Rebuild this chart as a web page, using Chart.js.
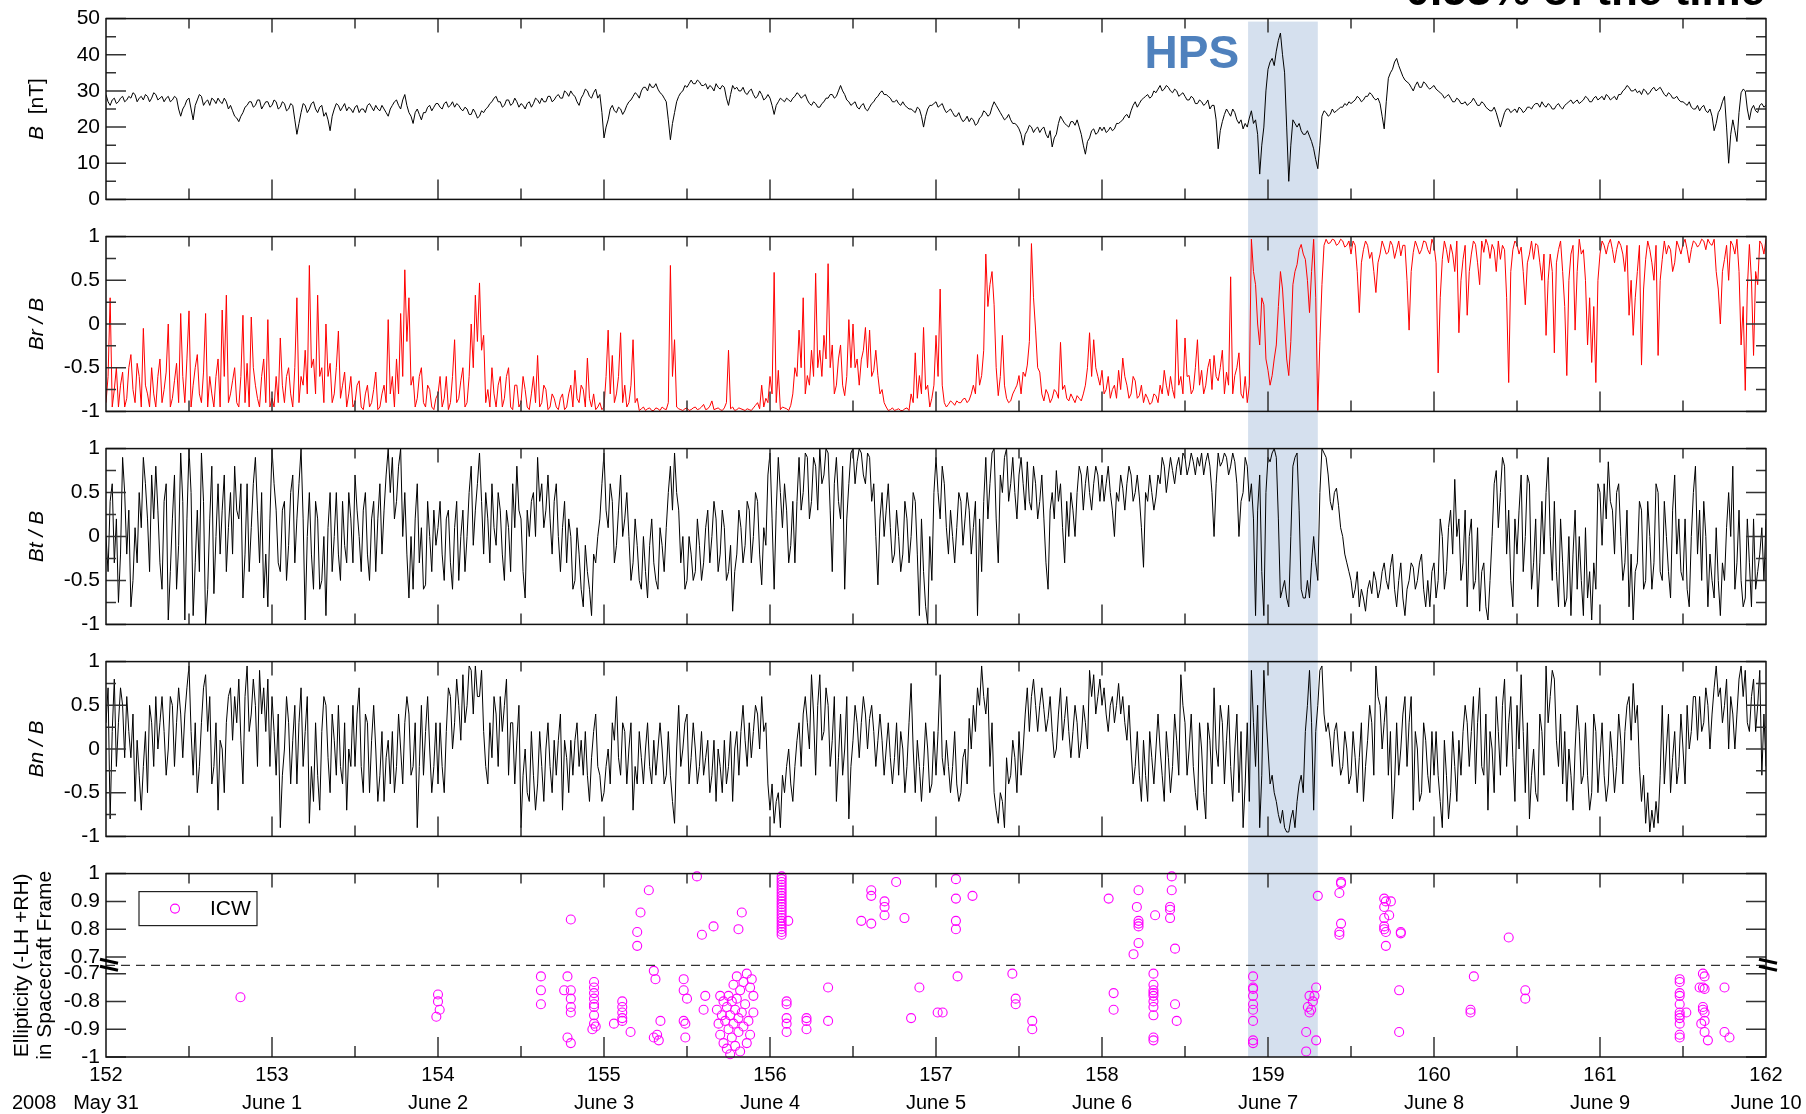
<!DOCTYPE html>
<html>
<head>
<meta charset="utf-8">
<script src="https://cdn.jsdelivr.net/npm/chart.js@4.4.1/dist/chart.umd.min.js"></script>
<style>
  html, body { margin: 0; padding: 0; background: #fff; }
  #wrap { position: relative; width: 1806px; height: 1114px; overflow: hidden; }
  #wrap canvas { position: absolute; left: 0; }
</style>
</head>
<body>
<div id="wrap">
  <canvas id="c-b"  width="1806" height="218" style="top:0px"></canvas>
  <canvas id="c-br" width="1806" height="212" style="top:218px"></canvas>
  <canvas id="c-bt" width="1806" height="213" style="top:430px"></canvas>
  <canvas id="c-bn" width="1806" height="212" style="top:643px"></canvas>
  <canvas id="c-el" width="1806" height="259" style="top:855px"></canvas>
</div>
<script>
/* ============================================================
   STEREO field panels + ICW ellipticity, 2008 day 152 - 162
============================================================ */

// time grid of the field series (day of year)
const DAY_START = 152;
const DAY_STEP = 0.025;   // *_MID arrays sit half a step after each sample

// |B| in nT, one row per day
const B_NT = [
  29,26,28,27,28.5,27.5,28,29,28,27.5, 28.5,28,29,28,27,28.5,27.5,28,23,26, 28,22,27.5,28.5,27,26,27.5,28,26.5,27, 26,23,21.5,24,26,27,26,27.5,26,27,
  26,27,25.5,26.5,25,26,18,24,26,25, 27,24,26,24,19,25,26,25.5,24.5,25, 25.5,24,25,26,25.5,26,24.5,25,23,26, 27.5,25,29,24,21,25,22,24,26,25.5,
  26.5,25,27,26,25.5,26,24.5,25,23.5,24, 23,24,25.5,27,28.5,27,26,27.5,26.5,27, 26.5,25,27,26.5,27.5,28,27,28.5,27.5,29, 28,29.5,30,28.5,26,29,30,28,30.5,29,
  17,22,26,24,25,24.5,27,28.5,29,30, 31,32,31,30.5,29,27,16.5,24,28.5,30, 31,33,32,32.5,31.5,30.5,31,32,30.5,31, 26,31.5,31,30,29.5,30,29,28.5,29,28,
  28,23.5,27,27.5,28,27,28.5,29,28.5,27.5, 26,26.5,25.5,27,28,29,28.5,31.5,29,27, 26.5,25.5,26,25,25.5,27,28.5,30,29,28, 27,26.5,27,25.5,25,24,25,20,25,26,
  27,26,25,24.5,24,23,22.5,22,21.5,22, 21,23,24,23.5,27,25,23,22.5,22,21, 19.5,15,19,20,19.5,18.5,20,17,14.5,18, 23,21,20,21.5,22,18,12.5,17,19.5,18.5,
  19,18.5,20,19.5,21,22,23.5,24.5,27,26.5, 28,29,28.5,29.5,31.5,30.5,31,29.5,30,29, 28.5,27.5,28,26.5,27,26.5,25,26,14,21.5, 25,23,24,21,19.5,20,24.5,22,7,20,
  36,39,41,46,35,5,22,20,19,18, 17.5,14,8.5,23,24,23.5,24,25,25.5,26, 26.5,27.5,28,27.5,28.5,29,27.5,26.5,19.5,33.5, 36,39,35.5,33,32,30,32.5,31,32,30.5,
  31.5,30,29,28.5,28,27,27.5,26.5,26,27, 27,26,26.5,25,24.5,24,20,24,25,24.5, 24,25,24.5,25.5,26,26.5,27,25.5,26,25, 26.5,25,26.5,27.5,27,26.5,27.5,28,27,28.5,
  28,27.5,28.5,28,27.5,29,30.5,31,30,29.5, 29,30,29.5,31,30.5,30,28.5,29,28,27.5, 27,26,25.5,25,24.5,26,24,23,21,25, 28.5,10,22,16,29.5,30,22,26,24,26.5,
  26
];
const B_MID = [
  27,27.5,26.5,28,27,28.5,29.5,27,28.5,29, 27,29.5,27.5,28.5,28,27,28.5,25,25,27.5, 25,26,29,26,27.5,28,26.5,27,28,25, 24.5,22.5,23,25.5,27,25.5,27.5,25,27,25.5,
  27.5,25,27,24.5,26.5,22,21,26.5,24,26.5, 25,25.5,23,22,23,26.5,24.5,26.5,25.5,24, 26,25,24,26.5,24.5,25,26,24,25,27, 26,27.5,26,23,24,23.5,24,25.5,24.5,26.5,
  25.5,26.5,25.5,27,26.5,25,25.5,23.5,25,22.5, 24.5,25,26.5,28,27,25.5,27.5,26,28,25.5, 26,26.5,25.5,28,26.5,27,28.5,27,28.5,28, 30,28.5,29,27,28,30.5,28.5,29.5,28,24,
  20,25,24.5,25.5,23.5,26,27.5,29.5,28,31, 30,31,32,29.5,28,22,21,27,29.5,31.5, 32,32,33,31.5,32,31.5,30,31,31.5,28, 29,30.5,30,31,29,30.5,28,30,27.5,29,
  26,26,28,27,27.5,28,29.5,28,29,26.5, 27,25.5,26.5,28,29,28,30,30,27.5,26, 27,25,26.5,24.5,26.5,28,29.5,29,28.5,27, 27.5,26,26,25,24.5,25.5,23,23,26,26.5,
  25.5,26.5,24,25,23,24,21.5,23,22.5,20.5, 22.5,24.5,23,25.5,26,24,22,23.5,21,20.5, 18,18,20.5,18.5,20,19.5,18,19,17,21, 22,20.5,21.5,20.5,20,15,16,19,18,20,
  20,19,19,21,21.5,23,22.5,26,25.5,27.5, 28.5,28,30,30.5,30,31.5,30,30.5,28.5,29.5, 27.5,28.5,26.5,27.5,26,27.5,26,22,19,23.5, 24,25,22,22,21,22.5,21,18,15,30,
  38,37,44,40,20,15,21,21,18,19, 16,11,15,24.5,23,25,24.5,25.5,26.5,27, 27,28.5,27,28.5,29.5,28,28,23,27,35, 38,37,34,32.5,31,31.5,31,32.5,31,31,
  30.5,29.5,28,29,27,28,26.5,27,26.5,28, 26,27,25.5,24.5,25.5,22,22,25,24,25, 25.5,24,25.5,25,26.5,25.5,26,26.5,25,26, 25.5,26,27,26.5,27.5,27,28.5,27,28,27.5,
  28.5,29,27.5,28.5,29,30,31.5,30,30.5,30, 30.5,29,30.5,30,31,29,29.5,28,28.5,27, 26.5,27,25,26,25.5,24.5,25,19,24,27, 20,18,19,24,30.5,25,25,24.5,26,25.5
];

// Br / B
const BR_B = [
  -0.9,0.3,-0.75,-0.95,-0.55,-0.85,-0.35,-0.9,-0.6,-0.05, -0.8,-0.5,-0.95,-0.4,-0.75,0.0,-0.85,-0.45,0.12,-0.9, 0.15,-0.7,-0.35,-0.9,0.12,-0.6,-0.95,-0.4,0.16,0.33, -0.8,-0.5,-0.95,0.1,-0.45,0.08,-0.7,-0.95,-0.4,0.05,
  -0.85,-0.6,-0.16,-0.9,-0.5,-0.95,0.3,-0.6,-0.3,0.67, -0.4,0.33,-0.5,0.0,-0.45,-0.8,-0.08,-0.7,-0.95,-0.6, -0.9,-0.65,-0.98,-0.7,-0.9,-0.55,-0.95,-0.7,0.05,-0.6, -0.4,0.12,0.62,0.3,-0.6,-0.85,-0.5,-0.95,-0.75,-0.98,
  -0.8,-0.95,-0.6,-0.9,-0.18,-0.85,-0.5,-0.9,0.0,0.33, 0.47,-0.13,-0.75,-0.5,-0.95,-0.6,-0.85,-0.5,-0.98,-0.7, -0.9,-0.75,-0.98,-0.6,-0.36,-0.9,-0.75,-0.95,-0.85,-0.98, -0.8,-0.95,-0.7,-0.53,-0.9,-0.75,-0.39,-0.95,-0.98,-0.9,
  -0.95,-0.07,-0.36,-0.8,-0.1,-0.7,-0.9,-0.18,-0.85,-0.97, -0.99,-0.96,-0.99,-0.97,-0.95,-0.98,0.67,-0.18,-0.97,-0.99, -0.96,-0.98,-0.95,-0.97,-0.92,-0.97,-0.88,-0.97,-0.98,-0.96, -0.3,-0.95,-0.98,-0.97,-0.99,-0.98,-0.96,-0.9,-0.7,-0.85,
  -0.6,0.59,-0.53,-0.95,-0.97,-0.93,-0.5,-0.07,0.3,-0.59, -0.3,0.58,-0.3,-0.13,0.69,-0.24,-0.7,-0.24,-0.82,0.05, 0.0,-0.4,-0.41,-0.04,-0.07,-0.53,-0.59,-0.75,-0.95,-0.98, -0.99,-0.97,-0.99,-0.96,-0.8,-0.33,-0.59,-0.04,-0.7,-0.85,
  -0.13,0.4,-0.9,-0.92,-0.9,-0.88,-0.9,-0.85,-0.87,-0.7, -0.35,-0.59,0.8,0.45,0.22,-0.82,-0.13,-0.85,-0.88,-0.75, -0.59,-0.55,-0.47,0.92,-0.07,-0.55,-0.88,-0.8,-0.85,-0.78, -0.21,-0.7,-0.88,-0.85,-0.82,-0.88,-0.7,-0.1,-0.18,-0.6,
  -0.53,-0.75,-0.85,-0.7,-0.53,-0.39,-0.7,-0.8,-0.65,-0.82, -0.9,-0.85,-0.9,-0.82,-0.7,-0.53,-0.82,-0.75,0.05,-0.6, -0.16,-0.59,-0.75,-0.18,-0.53,-0.7,-0.4,-0.36,-0.65,-0.3, -0.55,0.54,-0.59,-0.33,-0.85,-0.9,0.97,0.45,-0.24,0.22,
  -0.53,-0.59,-0.24,0.6,0.0,-0.59,0.45,0.68,0.91,0.74, 0.13,0.97,-0.99,0.45,0.97,0.93,0.96,0.92,0.95,0.9, 0.8,0.9,0.13,0.85,0.9,0.82,0.36,0.8,0.88,0.82, 0.9,0.85,0.78,0.9,-0.07,0.82,0.88,0.85,0.94,0.8,
  0.9,-0.56,0.74,0.85,0.91,0.6,-0.1,0.74,0.1,0.8, 0.91,0.45,0.82,0.9,0.91,0.6,0.74,0.85,-0.67,0.85, 0.91,0.88,0.22,0.8,0.74,0.9,0.5,-0.13,0.8,-0.33, 0.85,0.6,-0.59,0.8,-0.07,0.97,0.85,-0.24,-0.44,-0.67,
  0.8,0.9,0.91,0.85,0.85,0.9,0.6,0.1,-0.13,0.6, -0.47,0.74,0.85,0.5,-0.36,0.74,0.8,0.85,0.7,0.88, 0.91,0.85,0.85,0.93,0.91,0.95,0.97,0.9,0.6,0.0, 0.74,0.5,0.9,0.97,-0.24,-0.76,0.91,-0.36,0.45,0.91,
  0.97
];
const BR_MID = [
  -0.6,-0.95,-0.5,-0.7,-0.95,-0.5,-0.75,-0.45,-0.95,-0.7, -0.95,-0.8,-0.6,-0.9,-0.55,-0.95,-0.65,-0.9,-0.6,-0.4, -0.95,-0.5,-0.8,-0.55,-0.95,-0.8,-0.6,-0.95,-0.6,-0.9, -0.65,-0.9,-0.6,-0.9,-0.95,-0.5,-0.85,-0.6,-0.9,-0.95,
  -0.95,-0.9,-0.7,-0.6,-0.8,-0.5,-0.9,-0.7,-0.8,-0.5, -0.8,-0.6,-0.9,-0.6,-0.9,-0.5,-0.85,-0.55,-0.8,-0.95, -0.7,-0.95,-0.8,-0.95,-0.75,-0.98,-0.8,-0.9,-0.8,-0.95, -0.8,-0.6,-0.2,-0.7,-0.95,-0.6,-0.9,-0.7,-0.95,-0.85,
  -0.6,-0.85,-0.98,-0.6,-0.9,-0.65,-0.95,-0.6,-0.5,-0.2, -0.3,-0.9,-0.95,-0.8,-0.7,-0.95,-0.6,-0.95,-0.7,-0.95, -0.6,-0.95,-0.8,-0.9,-0.95,-0.7,-0.98,-0.8,-0.95,-0.85, -0.98,-0.8,-0.95,-0.85,-0.7,-0.95,-0.85,-0.8,-0.95,-0.98,
  -0.6,-0.8,-0.9,-0.6,-0.9,-0.95,-0.7,-0.9,-0.99,-0.95, -0.97,-0.99,-0.96,-0.99,-0.97,-0.9,-0.6,-0.95,-0.98,-0.97, -0.99,-0.96,-0.98,-0.95,-0.98,-0.94,-0.98,-0.96,-0.99,-0.9, -0.97,-0.99,-0.96,-0.98,-0.97,-0.99,-0.93,-0.97,-0.95,-0.9,
  -0.8,-0.9,-0.98,-0.96,-0.99,-0.8,-0.6,-0.5,-0.8,-0.7, -0.6,-0.5,-0.6,-0.4,-0.5,-0.8,-0.4,-0.7,-0.6,-0.5, -0.5,-0.7,-0.3,-0.5,-0.6,-0.3,-0.8,-0.9,-0.99,-0.96, -0.98,-0.99,-0.97,-0.99,-0.9,-0.85,-0.8,-0.75,-0.95,-0.7,
  -0.6,-0.7,-0.95,-0.88,-0.93,-0.9,-0.86,-0.9,-0.8,-0.8, -0.7,-0.3,0.2,0.6,-0.5,-0.6,-0.7,-0.9,-0.8,-0.7, -0.8,-0.6,-0.2,0.3,-0.5,-0.8,-0.75,-0.9,-0.75,-0.85, -0.75,-0.85,-0.8,-0.9,-0.85,-0.8,-0.5,-0.6,-0.5,-0.7,
  -0.8,-0.6,-0.75,-0.85,-0.75,-0.6,-0.85,-0.6,-0.85,-0.7, -0.8,-0.92,-0.8,-0.9,-0.8,-0.7,-0.6,-0.85,-0.7,-0.8, -0.6,-0.8,-0.5,-0.7,-0.8,-0.5,-0.75,-0.6,-0.5,-0.8, -0.7,-0.8,-0.5,-0.8,-0.6,-0.7,0.6,0.0,0.3,-0.4,
  -0.7,-0.4,0.2,0.4,-0.4,-0.2,0.6,0.85,0.8,0.5, 0.6,0.3,-0.2,0.9,0.92,0.97,0.9,0.97,0.88,0.95, 0.95,0.6,0.7,0.95,0.75,0.6,0.7,0.95,0.8,0.95, 0.75,0.95,0.9,0.5,0.6,0.95,0.8,0.95,0.85,0.97,
  0.7,0.3,0.95,0.7,0.8,0.95,0.5,0.9,0.6,0.95, 0.7,0.95,0.97,0.75,0.85,0.95,0.9,0.3,0.6,0.95, 0.8,0.6,0.7,0.95,0.92,0.7,0.8,0.5,0.6,0.7, 0.95,0.2,0.5,0.9,0.6,0.8,0.5,0.3,0.2,0.5,
  0.95,0.8,0.97,0.7,0.95,0.8,0.9,0.5,0.3,0.9, 0.4,0.95,0.7,0.9,0.5,0.95,0.9,0.6,0.95,0.8, 0.97,0.7,0.95,0.88,0.97,0.85,0.92,0.97,0.4,0.6, 0.9,0.95,0.8,0.6,0.2,0.4,0.5,0.6,0.95,0.8
];

// Bt / B
const BT_B = [
  0.0,0.4,-0.3,-0.75,0.9,-0.2,-0.8,0.1,0.5,0.9, 0.2,0.7,0.8,-0.3,0.4,-0.95,0.2,-0.6,0.95,-0.95, 1.0,-0.9,0.3,0.95,-1.0,0.2,-0.65,0.6,0.3,-0.4, 0.5,0.8,0.2,-0.7,0.6,0.1,0.9,-0.3,-0.7,-0.8,
  1.0,0.3,-0.4,0.4,-0.1,0.7,0.2,1.0,-0.95,0.5, -0.6,0.2,-0.5,-0.9,0.5,0.0,-0.2,0.4,-0.3,0.2, 0.7,0.0,0.3,-0.2,0.2,-0.4,0.6,0.3,1.0,0.9, 0.4,1.0,0.5,-0.7,-0.6,0.6,0.1,-0.55,0.0,0.3,
  0.1,-0.2,0.2,-0.3,0.1,-0.5,0.3,0.0,0.8,0.3, 0.95,-0.2,0.2,0.6,-0.1,0.3,-0.5,0.1,0.6,0.8, 0.2,-0.7,0.0,0.5,0.9,0.6,0.3,0.2,0.4,0.0, 0.1,-0.3,0.0,-0.5,-0.2,-0.8,-0.4,-0.9,-0.3,0.2,
  0.95,0.1,0.4,-0.1,0.7,0.2,0.0,-0.3,-0.1,-0.6, -0.4,-0.1,-0.3,-0.6,-0.1,0.1,0.8,0.95,0.3,0.0, -0.5,-0.2,-0.4,-0.1,-0.3,0.3,0.0,0.2,-0.2,0.1, -0.4,-0.85,-0.2,0.1,-0.1,0.3,0.0,0.4,-0.55,-0.1,
  0.95,-0.6,0.9,0.1,0.3,-0.1,-0.3,0.9,0.5,0.9, 0.4,0.8,1.0,0.7,0.95,-0.4,0.9,0.2,-0.6,0.6, 1.0,0.85,0.95,0.6,0.9,0.6,-0.55,0.5,0.3,0.1, -0.2,0.0,-0.2,0.2,0.0,0.4,-0.9,-0.4,-1.0,-0.5,
  0.9,0.2,0.6,-0.2,0.0,0.1,0.4,0.2,0.3,0.1, -0.9,-0.4,0.9,0.6,1.0,-0.3,0.5,1.0,0.6,0.5, 0.7,0.6,0.85,0.3,0.6,0.4,0.2,-0.6,0.5,0.75, 0.6,-0.3,0.0,0.3,0.5,0.7,0.6,0.5,0.6,0.7,
  0.7,0.6,0.5,0.0,0.4,0.55,0.6,0.7,0.5,0.45, -0.35,0.4,0.5,0.45,0.6,0.8,0.7,0.75,0.8,0.7, 0.9,0.8,0.85,0.9,0.95,0.85,0.8,0.0,0.95,0.85, 0.9,0.8,0.85,0.0,0.5,0.8,0.6,-0.9,0.7,-0.9,
  0.9,0.95,0.9,-0.7,-0.5,-0.8,0.8,0.95,-0.6,-0.7, -0.7,0.0,-0.5,1.0,0.9,0.4,0.5,0.35,0.0,-0.3, -0.5,-0.6,-0.8,-0.7,-0.6,-0.65,-0.5,-0.6,-0.3,-0.6, -0.2,-0.8,-0.3,-0.9,-0.5,-0.35,-0.5,-0.2,-0.8,-0.8,
  -0.3,-0.5,0.0,-0.4,0.3,0.65,0.2,-0.3,-0.8,0.2, -0.5,-0.85,-0.3,-0.95,0.0,0.75,0.5,0.8,0.3,-0.8, -0.2,0.7,0.0,0.6,-0.3,-0.8,0.4,0.5,0.0,0.4, -0.8,-0.3,-0.7,-0.9,0.3,0.0,-0.9,-0.7,-0.95,-0.6,
  0.5,0.6,0.85,0.3,0.5,0.0,-0.3,-0.8,-0.95,-0.3, 0.3,-0.5,0.0,-0.3,0.5,-0.5,0.0,-0.7,0.7,0.2, -0.5,-0.6,0.0,0.8,0.3,0.4,-0.8,-0.5,0.1,-0.9, -0.5,0.5,0.8,-0.3,-0.5,-0.7,-0.3,0.2,-0.4,0.1,
  0.2
];
const BT_MID = [
  -0.4,0.6,0.2,-0.2,0.5,0.3,-0.5,-0.3,0.1,0.6, -0.4,0.2,0.3,-0.6,0.6,-0.4,0.7,-0.1,0.4,0.2, 0.5,-0.3,-0.4,0.4,-0.6,0.8,0.0,-0.2,0.7,0.1, -0.2,0.3,0.6,-0.2,-0.4,0.6,0.3,0.5,-0.2,0.2,
  0.6,-0.3,0.3,-0.5,0.5,-0.3,0.6,0.2,0.0,-0.2, 0.4,-0.6,0.0,0.1,-0.4,0.5,-0.5,-0.1,0.5,-0.3, 0.3,-0.4,0.5,-0.5,0.4,0.2,-0.2,0.7,0.5,0.2, 0.8,0.0,-0.2,0.0,0.2,-0.3,-0.6,0.4,-0.4,-0.1,
  0.4,-0.5,0.3,-0.6,0.4,0.0,-0.4,0.5,-0.1,0.6, 0.4,0.5,-0.3,0.1,0.5,-0.2,0.3,-0.4,0.1,0.3, -0.4,0.3,0.4,0.0,0.4,0.1,0.7,-0.2,0.6,-0.4, 0.4,0.2,-0.6,0.1,-0.6,-0.1,-0.6,-0.2,0.0,0.6,
  0.3,0.6,-0.3,0.3,0.0,0.5,-0.5,0.2,-0.5,0.0, -0.7,0.2,-0.5,0.1,-0.4,0.5,0.3,0.5,-0.3,-0.6, 0.0,-0.5,0.2,-0.5,0.1,-0.3,0.4,-0.4,0.3,-0.5, -0.1,-0.4,0.3,-0.3,0.4,-0.3,0.5,-0.2,0.1,0.7,
  0.2,0.3,0.5,0.6,-0.3,0.4,0.4,0.3,0.95,0.2, 0.9,0.3,0.6,1.0,0.3,0.6,0.4,0.8,0.2,0.95, 0.6,1.0,0.7,0.95,0.4,0.0,0.2,0.0,0.6,-0.3, 0.3,-0.4,0.4,-0.3,0.5,-0.2,0.2,-0.8,0.0,0.5,
  0.5,0.8,0.1,0.3,-0.3,0.5,-0.1,0.5,-0.2,0.4, 0.2,0.4,0.2,0.95,0.2,0.7,0.9,0.4,0.9,0.2, 0.9,0.3,0.4,0.8,0.2,0.7,-0.3,0.3,0.2,0.4, 0.1,0.4,0.5,0.0,0.8,0.3,0.8,0.3,0.8,0.4,
  0.4,0.8,0.3,0.5,0.7,0.3,0.8,0.4,0.7,0.1, 0.5,0.7,0.3,0.7,0.9,0.5,0.9,0.6,0.9,0.95, 0.7,0.95,0.7,0.8,0.7,0.95,0.5,0.6,0.8,0.95, 0.7,0.95,0.6,0.4,0.9,0.4,0.2,0.3,-0.4,0.5,
  0.85,1.0,0.2,-0.6,-0.7,0.0,0.9,0.3,-0.7,-0.5, -0.3,-0.3,0.5,0.95,0.7,0.3,0.55,0.1,-0.2,-0.4, -0.7,-0.4,-0.6,-0.85,-0.5,-0.4,-0.7,-0.4,-0.5,-0.35, -0.6,-0.5,-0.7,-0.6,-0.3,-0.6,-0.3,-0.6,-0.5,-0.4,
  -0.7,0.2,-0.6,0.1,-0.2,0.0,-0.5,0.3,0.0,-0.6, 0.1,-0.4,-0.8,-0.5,0.6,0.1,0.9,-0.2,-0.5,0.2, 0.3,-0.4,0.7,-0.6,0.2,-0.3,-0.2,0.9,-0.5,-0.4, 0.2,-0.8,0.0,-0.2,-0.6,-0.5,0.1,-0.4,-0.3,0.6,
  -0.1,0.2,0.4,-0.2,0.6,-0.5,0.3,-0.2,-0.4,0.4, -0.6,0.4,-0.6,0.6,-0.4,0.4,-0.4,0.3,-0.2,-0.4, 0.2,-0.8,0.5,-0.2,-0.5,0.0,-0.2,-0.7,-0.5,-0.3, 0.1,0.0,-0.6,0.3,-0.8,0.2,-0.8,-0.6,-0.2,-0.5
];

// Bn / B
const BN_B = [
  0.3,-0.8,0.8,0.3,0.5,0.6,-0.1,-0.6,-0.3,-0.2, -0.5,0.3,0.6,0.3,0.2,0.0,0.5,0.3,0.4,0.4, 0.95,-0.3,-0.5,0.3,0.85,0.6,-0.2,-0.7,0.0,0.3, 0.7,0.6,0.8,-0.4,0.95,0.4,0.5,0.9,0.7,0.8,
  0.6,-0.3,-0.9,0.0,0.3,0.1,-0.4,0.7,0.2,-0.85, -0.6,-0.3,0.2,0.5,-0.5,0.1,0.5,-0.4,-0.7,-0.2, -0.2,0.7,-0.5,0.3,0.1,0.0,-0.3,-0.6,0.1,0.2, -0.2,0.0,0.3,0.4,-0.2,-0.9,0.5,0.2,0.0,-0.2,
  -0.4,-0.2,0.2,0.6,0.3,0.5,0.85,0.5,0.9,0.95, 0.6,0.2,-0.4,-0.1,0.4,0.6,0.5,-0.3,0.3,0.1, -0.9,0.0,-0.6,-0.3,-0.4,-0.2,0.0,-0.2,0.1,0.1, -0.7,-0.1,0.1,0.1,-0.2,-0.3,-0.3,-0.1,0.4,-0.3,
  -0.5,0.0,0.3,0.6,-0.3,0.2,0.0,-0.7,-0.4,-0.1, 0.0,-0.2,0.1,0.0,0.0,-0.3,-0.3,-0.85,0.5,0.0, 0.4,-0.1,0.0,-0.2,-0.3,0.1,-0.3,-0.6,-0.2,0.1, -0.2,-0.6,0.2,0.2,0.1,0.3,0.2,0.4,0.6,0.3,
  -0.7,-0.85,-0.5,-0.3,-0.2,-0.4,-0.2,0.3,0.4,0.3, 0.85,-0.3,0.85,0.2,0.5,0.1,-0.6,0.4,0.0,-0.8, 0.1,0.3,0.3,0.4,0.35,0.2,0.1,0.1,0.0,-0.1, -0.1,-0.3,0.0,-0.2,0.75,-0.5,-0.2,-0.2,0.0,-0.4,
  -0.3,0.85,-0.3,-0.2,-0.2,-0.4,-0.5,0.0,0.35,0.5, 0.7,0.95,0.4,-0.2,-0.5,-0.85,-0.6,-0.1,-0.3,-0.1, 0.2,0.0,0.7,0.6,0.5,0.5,0.45,0.35,0.2,0.0, 0.7,0.35,0.2,0.2,0.3,0.1,0.3,0.9,0.85,0.6,
  0.5,0.4,0.5,0.3,0.75,0.6,0.1,0.0,-0.2,-0.3, 0.1,-0.6,-0.1,0.0,0.0,-0.6,-0.1,-0.2,0.1,0.85, 0.3,0.0,-0.2,-0.7,0.0,-0.8,0.1,0.7,-0.2,0.3, 0.1,-0.2,0.0,-0.5,-0.9,0.3,0.9,-0.2,-0.9,0.9,
  0.0,-0.3,-0.6,-0.85,-0.9,-0.95,-0.7,-0.6,-0.3,0.2, 0.9,-0.7,0.5,0.95,0.2,0.1,0.2,0.0,-0.2,0.0, -0.3,-0.1,-0.1,-0.6,0.1,0.3,0.95,0.5,0.3,-0.3, -0.8,0.3,0.0,0.6,0.3,-0.7,0.0,-0.5,0.1,-0.5,
  -0.3,-0.3,-0.9,-0.3,-0.5,-0.2,0.1,0.2,0.3,0.2, -0.4,0.7,-0.3,-0.7,0.0,0.6,-0.3,0.8,0.3,-0.1, 0.5,0.85,-0.5,-0.8,0.0,-0.6,0.2,0.95,0.6,0.8, -0.2,-0.4,-0.6,-0.3,0.0,0.2,-0.3,-0.3,-0.5,0.2,
  -0.1,-0.3,-0.4,-0.1,-0.2,0.1,0.2,0.6,0.75,0.5, -0.6,-0.85,-0.95,-0.9,-0.85,0.5,0.0,-0.5,0.2,-0.2, 0.0,0.5,0.2,0.6,0.6,0.3,0.5,0.4,0.95,0.7, 0.5,0.0,0.4,0.4,0.95,0.9,0.2,0.8,0.5,-0.3,
  -0.2
];
const BN_MID = [
  0.7,0.2,-0.2,0.7,-0.1,0.2,0.4,0.1,-0.7,0.2, 0.5,-0.2,0.0,0.6,-0.3,0.6,-0.2,0.7,-0.1,0.7, 0.2,0.3,-0.2,0.7,0.2,-0.4,0.3,0.1,-0.5,0.6, 0.1,0.3,0.1,0.6,0.2,0.8,-0.2,0.4,0.2,-0.2,
  0.2,0.4,-0.3,0.6,-0.4,0.5,0.3,-0.2,0.6,-0.2, 0.3,-0.7,0.6,-0.1,0.4,-0.3,-0.2,0.3,0.0,0.5, 0.4,-0.2,0.4,-0.5,0.5,-0.6,0.2,-0.1,-0.4,-0.5, 0.4,-0.4,0.6,-0.3,0.3,-0.2,-0.3,0.6,-0.5,0.3,
  0.3,-0.5,0.7,0.0,0.8,0.1,0.3,0.95,0.4,0.6, 0.9,-0.2,0.3,0.6,-0.2,0.2,0.8,0.3,-0.4,0.5, -0.3,-0.5,0.2,-0.7,0.2,-0.6,0.3,-0.5,-0.3,0.4, 0.1,-0.5,-0.3,0.3,0.1,0.2,-0.6,0.2,-0.2,-0.6,
  -0.2,-0.4,0.1,-0.1,0.3,-0.4,0.3,-0.2,0.2,-0.4, 0.3,-0.4,-0.3,0.3,-0.4,0.2,-0.6,0.0,-0.2,0.3, -0.4,0.3,-0.4,0.2,-0.1,-0.5,0.1,0.0,-0.5,-0.4, 0.2,0.0,-0.3,0.5,-0.2,-0.1,0.5,0.0,0.2,-0.4,
  -0.4,-0.6,-0.9,-0.5,0.0,-0.6,0.1,-0.2,0.6,0.0, 0.4,0.5,0.1,0.7,-0.2,0.6,-0.1,-0.3,0.6,-0.2, 0.5,-0.1,0.6,0.0,0.5,-0.2,0.4,-0.3,0.3,-0.4, 0.3,0.2,-0.5,0.3,0.0,0.1,-0.6,0.3,-0.5,0.2,
  0.2,-0.1,0.1,-0.5,0.2,-0.6,-0.1,-0.4,0.0,0.2, 0.5,0.6,0.7,0.3,-0.7,-0.5,-0.9,-0.4,0.1,-0.5, -0.3,0.4,0.2,0.8,0.2,0.7,0.2,0.6,-0.1,0.4, 0.1,0.6,-0.1,0.5,-0.1,0.5,0.0,0.6,0.4,0.8,
  0.7,0.2,0.6,0.5,0.4,0.3,0.5,-0.4,0.2,-0.6, -0.3,0.2,-0.4,0.4,-0.3,0.2,-0.5,0.4,-0.3,0.5, -0.3,0.4,-0.5,0.3,-0.5,0.3,-0.4,0.0,0.5,-0.4, 0.5,-0.6,0.4,0.2,-0.4,-0.6,0.3,0.5,-0.3,0.4,
  -0.4,-0.5,-0.75,-0.7,-0.95,-0.8,-0.9,-0.4,-0.5,0.5, 0.3,0.2,0.9,0.4,0.3,-0.2,0.3,-0.3,0.2,-0.4, 0.2,-0.5,0.3,-0.2,0.5,-0.3,0.6,0.0,0.6,0.2, -0.4,-0.3,0.4,-0.2,0.6,0.2,-0.6,0.3,-0.3,0.2,
  0.2,-0.6,0.1,-0.8,0.2,-0.6,-0.3,0.5,-0.2,0.6, 0.3,-0.2,0.4,0.2,-0.5,0.2,0.5,-0.2,0.6,-0.6, 0.0,0.2,0.3,-0.3,-0.5,0.4,-0.3,0.3,0.9,0.1, 0.4,0.2,0.0,-0.7,0.5,-0.4,0.3,-0.7,0.4,-0.5,
  0.3,-0.6,0.2,-0.5,0.4,-0.4,0.5,0.1,0.3,-0.2, -0.3,-0.5,-0.7,-0.6,-0.3,-0.4,0.4,-0.1,-0.4,0.4, -0.4,0.0,0.6,0.1,0.2,0.7,0.0,0.7,0.6,0.3, 0.8,0.6,0.0,0.8,0.6,0.3,0.6,0.2,0.9,0.4
];

// ICW events: day of year and ellipticity
const ICW_DAY = [
  152.81, 154.0, 154.0, 154.01, 153.99,
  154.62, 154.62, 154.62, 154.80, 154.78, 154.76, 154.8, 154.8, 154.8, 154.8, 154.78, 154.8,
  154.94, 154.94, 154.94, 154.94, 154.94, 154.94, 154.94, 154.94, 154.95, 154.93,
  155.06, 155.11, 155.11, 155.11, 155.11, 155.11, 155.16,
  155.2, 155.2, 155.22, 155.27, 155.3, 155.31, 155.34, 155.32, 155.33, 155.3,
  155.48, 155.48, 155.5, 155.48, 155.49, 155.49, 155.56, 155.59, 155.66, 155.6, 155.61,
  155.68, 155.69, 155.70, 155.70, 155.71, 155.72, 155.72, 155.73, 155.74, 155.74,
  155.75, 155.75, 155.76, 155.76, 155.77, 155.77, 155.78, 155.78, 155.79, 155.79,
  155.8, 155.8, 155.81, 155.81, 155.82, 155.82, 155.83, 155.84, 155.84, 155.85,
  155.86, 155.86, 155.87, 155.88, 155.88, 155.89, 155.9, 155.9, 155.83, 155.81,
  156.07, 156.07, 156.07, 156.07, 156.07, 156.07, 156.07, 156.07, 156.07, 156.07, 156.07,
  156.07, 156.07, 156.07, 156.07, 156.07, 156.07, 156.07, 156.07, 156.07, 156.07, 156.07, 156.11,
  156.1, 156.1, 156.1, 156.1, 156.1, 156.22, 156.22, 156.22, 156.35, 156.35,
  156.55, 156.61, 156.61, 156.61, 156.69, 156.69, 156.69, 156.76, 156.81,
  156.85, 156.9, 157.01, 157.12, 157.12, 157.12, 157.12, 157.22, 157.13, 157.04,
  157.46, 157.48, 157.48, 157.58, 157.58, 158.04, 158.07, 158.07,
  158.22, 158.21, 158.22, 158.22, 158.22, 158.22, 158.19, 158.32,
  158.42, 158.42, 158.41, 158.41, 158.41, 158.44,
  158.31, 158.31, 158.31, 158.31, 158.31, 158.31, 158.31, 158.31, 158.31, 158.31, 158.44, 158.45,
  158.91, 158.91, 158.91, 158.91, 158.91, 158.91, 158.91, 158.91, 158.91,
  159.29, 159.25, 159.28, 159.27, 159.24, 159.26, 159.25, 159.23, 159.29, 159.23, 159.3,
  159.44, 159.44, 159.43, 159.44, 159.43, 159.43,
  159.7, 159.71, 159.74, 159.7, 159.73, 159.7, 159.7, 159.7, 159.71, 159.71, 159.8, 159.8,
  159.79, 159.79, 160.45, 160.24, 160.22, 160.22, 160.55, 160.55,
  161.48, 161.48, 161.48, 161.48, 161.48, 161.48, 161.48, 161.48, 161.48, 161.48, 161.48, 161.52,
  161.6, 161.62, 161.63, 161.62, 161.63, 161.62, 161.62, 161.63, 161.63, 161.61, 161.63, 161.65,
  161.75, 161.75, 161.78
];
const ICW_ELL = [
  -0.785, -0.775, -0.80, -0.83, -0.855,
  -0.71, -0.76, -0.81, 0.835, -0.71, -0.76, -0.76, -0.79, -0.82, -0.84, -0.93, -0.95,
  -0.73, -0.75, -0.77, -0.79, -0.81, -0.82, -0.85, -0.88, -0.89, -0.90,
  -0.88, -0.80, -0.82, -0.84, -0.86, -0.87, -0.91,
  0.79, 0.74, 0.86, 0.94, -0.69, -0.72, -0.87, -0.92, -0.94, -0.93,
  -0.72, -0.76, -0.79, -0.87, -0.88, -0.93, 0.99, 0.78, 0.81, -0.83, -0.78,
  -0.83, -0.88, -0.78, -0.92, -0.85, -0.80, -0.95, -0.87, -0.82, -0.97,
  -0.78, -0.90, -0.85, -0.99, -0.80, -0.93, -0.74, -0.88, -0.83, -0.96,
  -0.71, -0.79, -0.86, -0.91, -0.76, -0.98, -0.84, -0.89, -0.73, -0.81,
  -0.95, -0.70, -0.87, -0.75, -0.92, -0.72, -0.84, -0.78, 0.86, 0.80,
  0.99, 0.98, 0.97, 0.96, 0.95, 0.94, 0.93, 0.92, 0.91, 0.90, 0.89,
  0.88, 0.87, 0.86, 0.85, 0.84, 0.83, 0.82, 0.81, 0.80, 0.79, 0.78, 0.83,
  -0.80, -0.81, -0.86, -0.88, -0.91, -0.86, -0.87, -0.90, -0.75, -0.87,
  0.83, 0.94, 0.92, 0.82, 0.90, 0.88, 0.85, 0.97, 0.84,
  -0.86, -0.75, -0.84, 0.98, 0.91, 0.83, 0.80, 0.92, -0.71, -0.84,
  -0.70, -0.79, -0.81, -0.87, -0.90, 0.91, -0.77, -0.83,
  0.94, 0.88, 0.83, 0.82, 0.81, 0.75, 0.71, 0.85,
  0.99, 0.94, 0.88, 0.87, 0.84, 0.73,
  -0.70, -0.74, -0.76, -0.77, -0.78, -0.80, -0.82, -0.85, -0.93, -0.94, -0.81, -0.87,
  -0.71, -0.75, -0.755, -0.78, -0.81, -0.83, -0.87, -0.94, -0.95,
  -0.75, -0.78, -0.78, -0.80, -0.82, -0.83, -0.84, -0.91, -0.94, -0.98, 0.92,
  0.97, 0.965, 0.93, 0.82, 0.79, 0.78,
  0.91, 0.90, 0.90, 0.88, 0.85, 0.84, 0.81, 0.80, 0.79, 0.74, 0.79, 0.785,
  -0.76, -0.91, 0.77, -0.71, -0.83, -0.84, -0.76, -0.79,
  -0.72, -0.73, -0.77, -0.78, -0.81, -0.84, -0.85, -0.86, -0.88, -0.92, -0.93, -0.84,
  -0.75, -0.75, -0.755, -0.70, -0.71, -0.82, -0.83, -0.84, -0.87, -0.88, -0.91, -0.94,
  -0.75, -0.91, -0.93
];

// axis labels
const X_TICKS = [152, 153, 154, 155, 156, 157, 158, 159, 160, 161, 162];
const X_DATES = ["May 31", "June 1", "June 2", "June 3", "June 4", "June 5", "June 6", "June 7", "June 8", "June 9", "June 10"];
const ELL_TICKS = [1, 0.9, 0.8, 0.7, -0.7, -0.8, -0.9, -1];
const YEAR_LABEL = "2008";
const TOP_NOTE = "0.53% of the time";

// heliospheric plasma sheet crossing
const HPS_START = 158.88;
const HPS_END = 159.30;

/* ------------------------------------------------------------ */

const FONT = "'Liberation Sans', Arial, Helvetica, sans-serif";
const AXIS_W = 106;
const RIGHT_PAD = 40;
const SHADE = "#d5e0ee";
const ELL_GAP = 0.67;   // the break hides -0.67 .. 0.67

const toAxis = v => (v > 0 ? v - ELL_GAP : v + ELL_GAP);

// samples on the grid, with the half-step readings slotted in between
function seriesPoints(values, mids) {
    const pts = [];
    values.forEach((v, i) => {
        pts.push({ x: DAY_START + i * DAY_STEP, y: v });
        if (mids && i < mids.length) pts.push({ x: DAY_START + (i + 0.5) * DAY_STEP, y: mids[i] });
    });
    return pts;
}

function yAxis(min, max, step) {
    return {
        type: "linear",
        position: "left",
        min, max,
        ticks: {
            stepSize: step, color: "#000", font: { family: FONT, size: 21 }, padding: 6, autoSkip: false,
            callback: v => String(Math.round(v * 100) / 100)
        },
        grid: { display: false, drawTicks: false },
        border: { display: false },
        afterFit(s) { s.width = AXIS_W; }
    };
}

function xAxis(show) {
    const ax = {
        type: "linear",
        min: 152, max: 162,
        display: show,
        grid: { display: false, drawTicks: false },
        border: { display: false },
        afterBuildTicks(s) { s.ticks = X_TICKS.map(v => ({ value: v })); },
        ticks: {
            autoSkip: false, maxRotation: 0, color: "#000", padding: 4,
            font: { family: FONT, size: 20, lineHeight: 1.4 },
            callback: (v, i) => [String(X_TICKS[i]), X_DATES[i]]
        }
    };
    if (show) ax.afterFit = s => { s.height = 57; };
    return ax;
}

function drawRotated(ctx, parts, x, y, size) {
    ctx.save();
    ctx.translate(x, y);
    ctx.rotate(-Math.PI / 2);
    ctx.textBaseline = "middle";
    ctx.textAlign = "left";
    ctx.fillStyle = "#000";
    const fonts = parts.map(p => (p.it ? "italic " : "") + size + "px " + FONT);
    let total = 0;
    const widths = parts.map((p, k) => { ctx.font = fonts[k]; const w = ctx.measureText(p.t).width; total += w; return w; });
    let cx = -total / 2;
    parts.forEach((p, k) => { ctx.font = fonts[k]; ctx.fillText(p.t, cx, 0); cx += widths[k]; });
    ctx.restore();
}

function breakMark(ctx, cx, cy) {
    ctx.save();
    ctx.strokeStyle = "#000";
    ctx.lineWidth = 3;
    ctx.beginPath();
    ctx.moveTo(cx - 9, cy - 6); ctx.lineTo(cx + 9, cy - 2);
    ctx.moveTo(cx - 9, cy + 1); ctx.lineTo(cx + 9, cy + 5);
    ctx.stroke();
    ctx.restore();
}

/* decoracion de cada panel: sombreado HPS, marco, ticks hacia dentro, textos */
function panelDeco(cfg) {
    return {
        id: "panelDeco",
        beforeDatasetsDraw(chart) {
            const { ctx, chartArea: a } = chart;
            const x = chart.scales.x;
            const x0 = x.getPixelForValue(HPS_START);
            const x1 = x.getPixelForValue(HPS_END);
            const top = cfg.shadeTop === "area" ? a.top + 3 : 0;
            const bottom = cfg.shadeBottom === "area" ? a.bottom : chart.height;
            ctx.save();
            ctx.fillStyle = SHADE;
            ctx.fillRect(x0, top, x1 - x0, bottom - top);
            ctx.restore();
        },
        afterDatasetsDraw(chart) {
            const { ctx, chartArea: a } = chart;
            const x = chart.scales.x, y = chart.scales.y;
            ctx.save();

            if (cfg.breakLine) {
                const yb = y.getPixelForValue(0);
                ctx.strokeStyle = "#333";
                ctx.lineWidth = 1.3;
                ctx.setLineDash([9, 6]);
                ctx.beginPath();
                ctx.moveTo(a.left, yb); ctx.lineTo(a.right, yb);
                ctx.stroke();
                ctx.setLineDash([]);
            }

            ctx.strokeStyle = "#333";
            ctx.lineWidth = 1.5;
            ctx.beginPath();
            const yTick = (v, len) => {
                const py = y.getPixelForValue(v);
                ctx.moveTo(a.left, py); ctx.lineTo(a.left + len, py);
                ctx.moveTo(a.right, py); ctx.lineTo(a.right - len, py);
            };
            y.ticks.forEach(t => yTick(t.value, 20));
            (cfg.yMinor || []).forEach(v => yTick(v, 10));
            const xTick = (v, lenTop, lenBot) => {
                const px = x.getPixelForValue(v);
                ctx.moveTo(px, a.top); ctx.lineTo(px, a.top + lenTop);
                ctx.moveTo(px, a.bottom); ctx.lineTo(px, a.bottom - lenBot);
            };
            X_TICKS.forEach((d, i) => {
                if (i > 0 && i < X_TICKS.length - 1) xTick(d, 14, 20);
                if (i < X_TICKS.length - 1) xTick(d + 0.5, 10, 11);
            });
            ctx.stroke();

            ctx.strokeStyle = "#111";
            ctx.lineWidth = 1.5;
            ctx.strokeRect(a.left, a.top, a.right - a.left, a.bottom - a.top);

            if (cfg.breakLine) {
                const yb = y.getPixelForValue(0);
                breakMark(ctx, a.left + 3, yb);
                breakMark(ctx, a.right + 2, yb);
            }
            ctx.restore();
        },
        afterDraw(chart) {
            const { ctx, chartArea: a } = chart;
            const x = chart.scales.x;
            const midY = (a.top + a.bottom) / 2;
            cfg.titles.forEach(tl => drawRotated(ctx, tl.parts, tl.x, midY, 21));

            if (cfg.legend) {
                const lx = a.left + 33, ly = a.top + 18;
                ctx.save();
                ctx.fillStyle = "#fff";
                ctx.fillRect(lx, ly, 118, 34);
                ctx.strokeStyle = "#222";
                ctx.lineWidth = 1.2;
                ctx.strokeRect(lx, ly, 118, 34);
                ctx.strokeStyle = "#ff00ff";
                ctx.lineWidth = 1.1;
                ctx.beginPath();
                ctx.arc(lx + 36, ly + 17, 4.5, 0, Math.PI * 2);
                ctx.stroke();
                ctx.fillStyle = "#000";
                ctx.font = "21px " + FONT;
                ctx.textAlign = "left";
                ctx.textBaseline = "middle";
                ctx.fillText("ICW", lx + 71, ly + 18);
                ctx.restore();
            }

            if (cfg.year) {
                ctx.save();
                ctx.fillStyle = "#000";
                ctx.font = "20px " + FONT;
                ctx.textAlign = "left";
                ctx.textBaseline = "middle";
                ctx.fillText(YEAR_LABEL, 12, a.bottom + 46);
                ctx.restore();
            }

            if (cfg.top) {
                ctx.save();
                ctx.fillStyle = "#4f81bd";
                ctx.font = "bold 46px " + FONT;
                ctx.textAlign = "right";
                ctx.textBaseline = "middle";
                ctx.fillText("HPS", x.getPixelForValue(HPS_START) - 9, 55);
                ctx.fillStyle = "#000";
                ctx.font = "bold 44px " + FONT;
                ctx.textBaseline = "alphabetic";
                ctx.fillText(TOP_NOTE, 1765, 5);
                ctx.restore();
            }
        }
    };
}

function makePanel(id, datasets, yScale, deco, padTop, padBottom, showX) {
    return new Chart(document.getElementById(id), {
        type: "line",
        data: { datasets },
        options: {
            responsive: false,
            animation: false,
            events: [],
            layout: { padding: { left: 0, right: RIGHT_PAD, top: padTop, bottom: padBottom } },
            plugins: { legend: { display: false }, tooltip: { enabled: false } },
            scales: { x: xAxis(showX), y: yScale }
        },
        plugins: [panelDeco(deco)]
    });
}

function lineSet(values, mids, color) {
    return {
        data: seriesPoints(values, mids),
        borderColor: color,
        borderWidth: 1,
        pointRadius: 0,
        tension: 0
    };
}

const RATIO_MINOR = [-0.75, -0.25, 0.25, 0.75];

makePanel("c-b", [lineSet(B_NT, B_MID, "#000")], yAxis(0, 50, 10),
    { shadeTop: "area", shadeBottom: "canvas", yMinor: [5, 15, 25, 35, 45], top: true,
      titles: [{ x: 37, parts: [{ t: "B", it: true }, { t: "  [nT]", it: false }] }] },
    17, 13, false);

makePanel("c-br", [lineSet(BR_B, BR_MID, "#ff0000")], yAxis(-1, 1, 0.5),
    { shadeTop: "canvas", shadeBottom: "canvas", yMinor: RATIO_MINOR,
      titles: [{ x: 37, parts: [{ t: "Br / B", it: true }] }] },
    12, 13, false);

makePanel("c-bt", [lineSet(BT_B, BT_MID, "#000")], yAxis(-1, 1, 0.5),
    { shadeTop: "canvas", shadeBottom: "canvas", yMinor: RATIO_MINOR,
      titles: [{ x: 37, parts: [{ t: "Bt / B", it: true }] }] },
    13, 13, false);

makePanel("c-bn", [lineSet(BN_B, BN_MID, "#000")], yAxis(-1, 1, 0.5),
    { shadeTop: "canvas", shadeBottom: "canvas", yMinor: RATIO_MINOR,
      titles: [{ x: 37, parts: [{ t: "Bn / B", it: true }] }] },
    12, 12, false);

const ellAxis = yAxis(toAxis(-1), toAxis(1), 0.1);
ellAxis.afterBuildTicks = s => { s.ticks = ELL_TICKS.map(v => ({ value: toAxis(v) })); };
ellAxis.ticks.callback = (v, i) => String(ELL_TICKS[i]);

makePanel("c-el", [{
        data: ICW_DAY.map((d, i) => ({ x: d, y: toAxis(ICW_ELL[i]) })),
        showLine: false,
        pointStyle: "circle",
        pointRadius: 4.5,
        pointBorderWidth: 1.1,
        pointBorderColor: "#ff00ff",
        pointBackgroundColor: "rgba(0,0,0,0)",
        clip: false
    }], ellAxis,
    { shadeTop: "canvas", shadeBottom: "area", breakLine: true, legend: true, year: true,
      titles: [{ x: 22, parts: [{ t: "Ellipticity (-LH +RH)", it: false }] },
               { x: 45, parts: [{ t: "in Spacecraft Frame", it: false }] }] },
    12, 0, true);
</script>
</body>
</html>
